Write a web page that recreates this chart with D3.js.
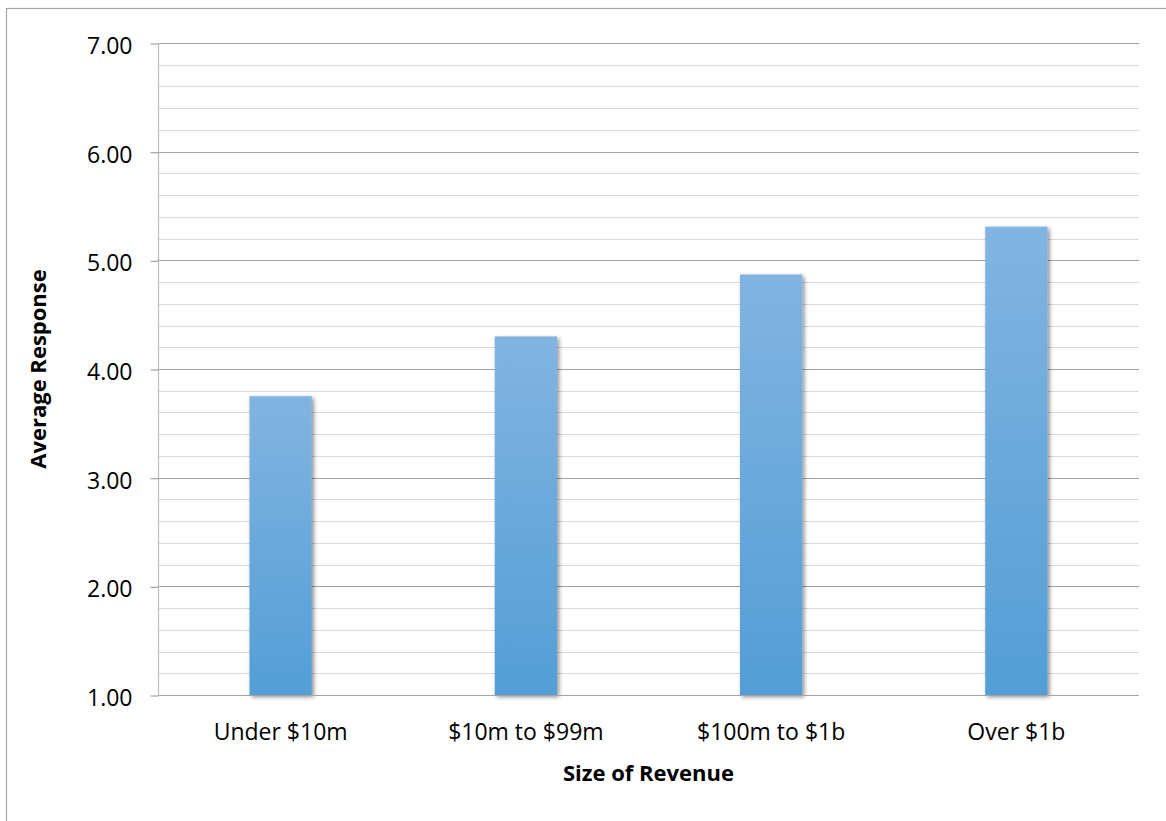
<!DOCTYPE html>
<html>
<head>
<meta charset="utf-8">
<script src="https://cdn.jsdelivr.net/npm/d3@7"></script>
<style>
  html, body { margin: 0; padding: 0; background: #fff; }
  svg { display: block; font-family: "Open Sans", sans-serif; }
</style>
</head>
<body>
<svg id="chart" width="1166" height="821"></svg>
<script>
// Average response by company revenue band
const categories = ["Under $10m", "$10m to $99m", "$100m to $1b", "Over $1b"];
const values = [3.75, 4.30, 4.87, 5.31];
const yTicks = [1, 2, 3, 4, 5, 6, 7];
const yMinorTicks = [1.2, 1.4, 1.6, 1.8, 2.2, 2.4, 2.6, 2.8, 3.2, 3.4, 3.6, 3.8,
                     4.2, 4.4, 4.6, 4.8, 5.2, 5.4, 5.6, 5.8, 6.2, 6.4, 6.6, 6.8];
const xTitle = "Size of Revenue";
const yTitle = "Average Response";

const svg = d3.select("#chart");
const W = 1166, H = 821;
const plot = { left: 158, right: 1139, top: 43, bottom: 695 };

// Outer chart frame (extends past the canvas on the right and bottom)
svg.append("rect")
  .attr("x", 6.5).attr("y", 8.5)
  .attr("width", 1300).attr("height", 1000)
  .attr("fill", "#fff")
  .attr("stroke", "#a6a6a6").attr("stroke-width", 1.2);

const x = d3.scaleBand().domain(categories).range([plot.left, plot.right]).padding(0);
const y = d3.scaleLinear().domain([1, 7]).range([plot.bottom, plot.top]);

const defs = svg.append("defs");
const grad = defs.append("linearGradient")
  .attr("id", "barFill").attr("x1", 0).attr("y1", 0).attr("x2", 0).attr("y2", 1);
grad.append("stop").attr("offset", "0%").attr("stop-color", "#82b4e1");
grad.append("stop").attr("offset", "100%").attr("stop-color", "#539ed6");

const shadow = defs.append("filter").attr("id", "barShadow")
  .attr("x", "-30%").attr("y", "-10%").attr("width", "160%").attr("height", "120%");
shadow.append("feDropShadow")
  .attr("dx", 2).attr("dy", 2).attr("stdDeviation", 2.2)
  .attr("flood-color", "#000").attr("flood-opacity", 0.45);

// Minor gridlines
svg.append("g").selectAll("line").data(yMinorTicks).join("line")
  .attr("x1", plot.left).attr("x2", plot.right)
  .attr("y1", d => Math.round(y(d)) + 0.5).attr("y2", d => Math.round(y(d)) + 0.5)
  .attr("stroke", "#d9d9d9").attr("stroke-width", 1.2);

// Major gridlines
svg.append("g").selectAll("line").data(yTicks).join("line")
  .attr("x1", plot.left).attr("x2", plot.right)
  .attr("y1", d => Math.round(y(d)) + 0.5).attr("y2", d => Math.round(y(d)) + 0.5)
  .attr("stroke", "#a3a3a3").attr("stroke-width", 1.2);

// Y axis
const yAxis = d3.axisLeft(y).tickValues(yTicks).tickFormat(d3.format(".2f"))
  .tickSize(8).tickPadding(18);
const gy = svg.append("g").attr("transform", `translate(${plot.left + 0.5},0)`).call(yAxis);
gy.select(".domain").attr("stroke", "#bdbdbd").attr("stroke-width", 1.2)
  .attr("d", `M0,${plot.top}V${plot.bottom}`);
gy.selectAll(".tick line").attr("stroke", "#a3a3a3").attr("stroke-width", 1.2)
  .attr("transform", "translate(0,0.5)");
gy.selectAll(".tick text").attr("font-size", 23).attr("fill", "#000")
  .attr("font-family", "'Open Sans', sans-serif").attr("dy", "0.45em");

// Bars
const barW = x.bandwidth() * 0.254;
svg.append("g").selectAll("rect").data(values).join("rect")
  .attr("x", (d, i) => x(categories[i]) + (x.bandwidth() - barW) / 2)
  .attr("y", d => y(d))
  .attr("width", barW)
  .attr("height", d => y(1) - y(d))
  .attr("fill", "url(#barFill)")
  .attr("filter", "url(#barShadow)");

// X axis baseline
svg.append("line")
  .attr("x1", plot.left).attr("x2", plot.right)
  .attr("y1", plot.bottom + 0.5).attr("y2", plot.bottom + 0.5)
  .attr("stroke", "#a3a3a3").attr("stroke-width", 1.2);

// X category labels
const xAxis = d3.axisBottom(x).tickSize(0).tickPadding(0);
const gx = svg.append("g").attr("transform", `translate(0,${plot.bottom})`).call(xAxis);
gx.select(".domain").remove();
gx.selectAll(".tick text").attr("font-size", 23).attr("fill", "#000")
  .attr("font-family", "'Open Sans', sans-serif")
  .attr("y", 45).attr("dy", 0);

// Axis titles
svg.append("text")
  .attr("x", (plot.left + plot.right) / 2).attr("y", 781)
  .attr("text-anchor", "middle")
  .attr("font-size", 22).attr("font-weight", "bold").attr("fill", "#000")
  .text(xTitle);

svg.append("text")
  .attr("transform", `translate(46,${(plot.top + plot.bottom) / 2}) rotate(-90)`)
  .attr("text-anchor", "middle")
  .attr("font-size", 22).attr("font-weight", "bold").attr("fill", "#000")
  .text(yTitle);
</script>
</body>
</html>
